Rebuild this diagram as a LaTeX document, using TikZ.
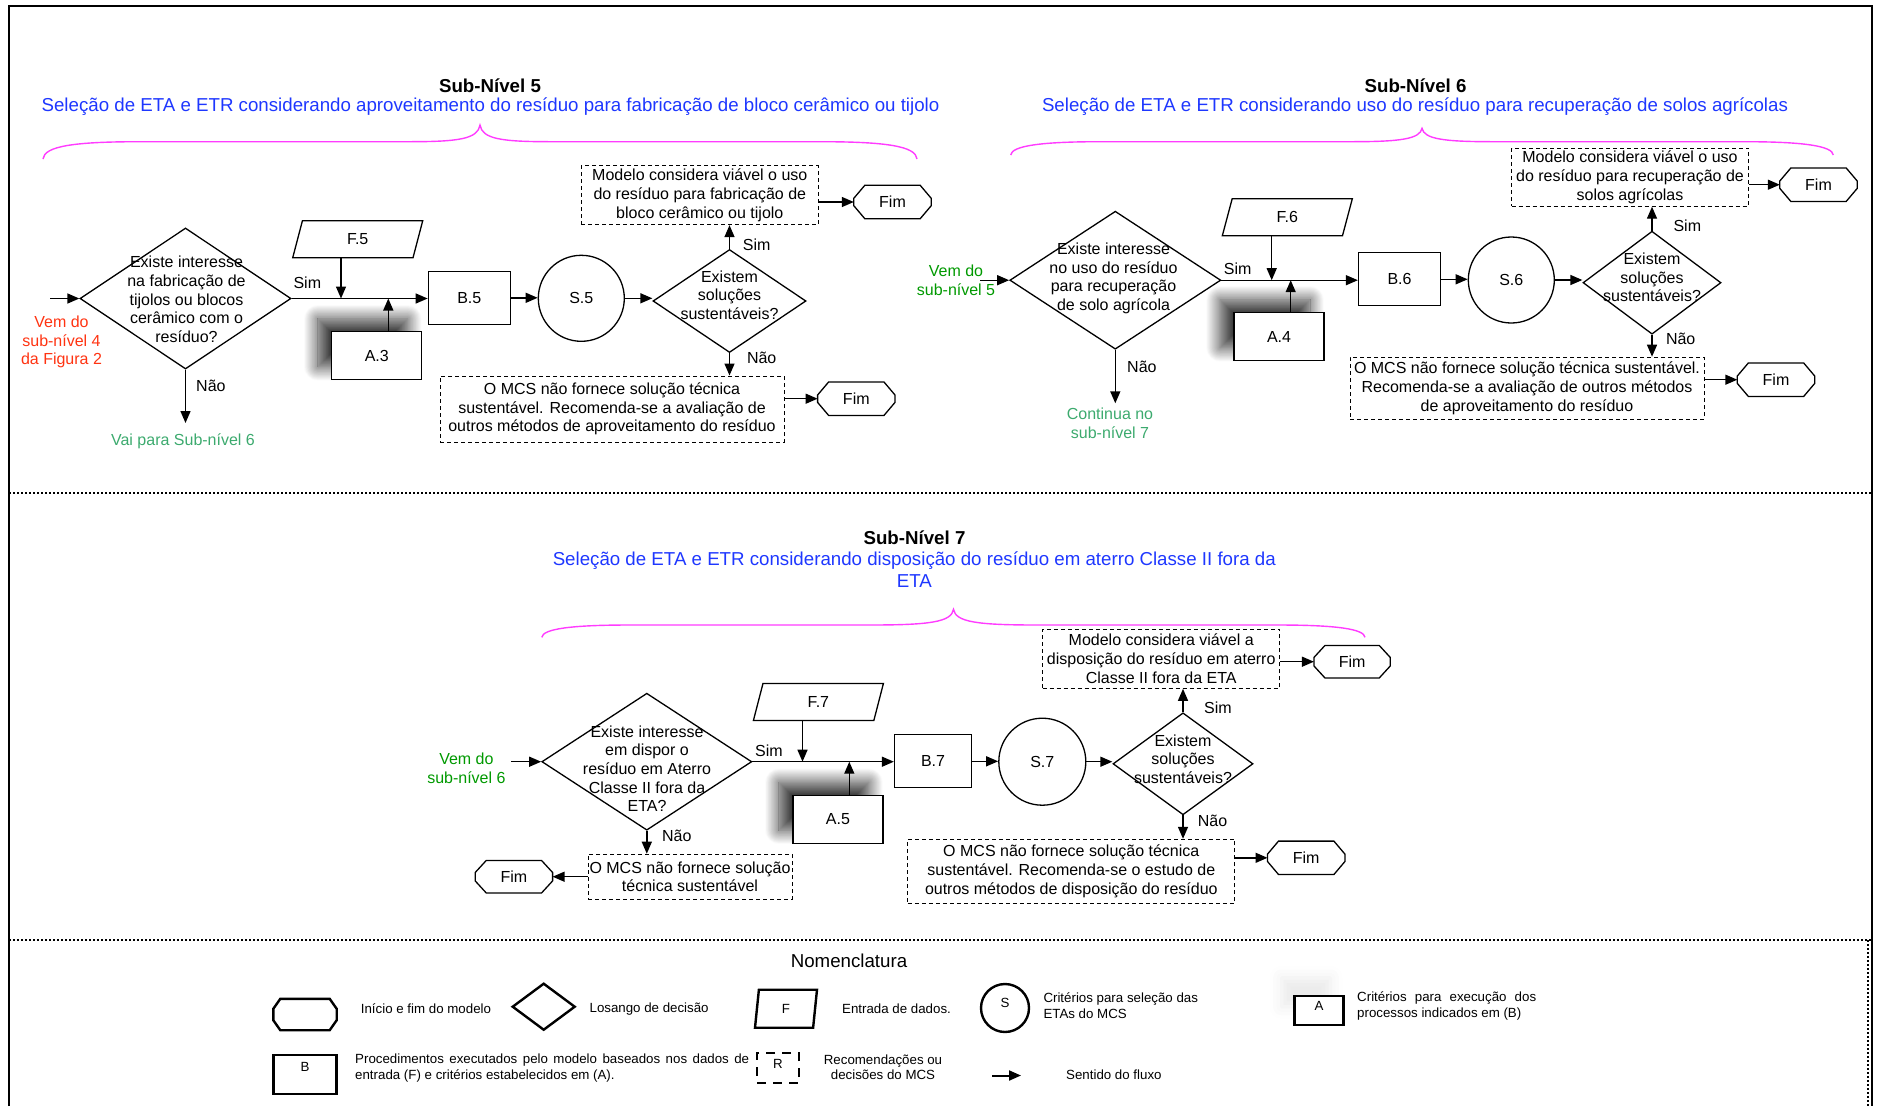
\documentclass[tikz,border=0pt]{standalone}
\usepackage{fontspec}
\setmainfont{Liberation Sans}
\usepackage{tikz}
\usetikzlibrary{positioning}
\usetikzlibrary{shapes.geometric, arrows.meta, shadows.blur}
\definecolor{titleblue}{RGB}{30,55,255}
\definecolor{fromred}{RGB}{255,51,17}
\definecolor{fromgreen}{RGB}{0,153,0}
\definecolor{togreen}{RGB}{60,170,110}
\definecolor{bracepink}{RGB}{255,60,255}
\newcommand{\nodefont}{\fontsize{16}{18.7}\selectfont}
\newcommand{\headfont}{\fontsize{18.7}{22}\selectfont}
\newcommand{\legfont}{\fontsize{13.3}{15.5}\selectfont}
\tikzstyle{process} = [rectangle, draw=black, line width=1.3pt, fill=white, inner sep=0pt, font=\nodefont]
\tikzstyle{criteria} = [process, blur shadow={shadow xshift=-14pt, shadow yshift=13pt, shadow blur radius=14pt, shadow blur steps=24, shadow opacity=80}]
\tikzstyle{decision} = [diamond, draw=black, line width=1.3pt, inner sep=0pt]
\tikzstyle{dataio} = [trapezium, trapezium left angle=49, trapezium right angle=131, trapezium stretches body, draw=black, line width=1.3pt, inner sep=0pt, minimum height=37pt, minimum width=130pt, font=\nodefont]
\tikzstyle{selcrit} = [circle, draw=black, line width=1.3pt, minimum size=86pt, inner sep=0pt, font=\nodefont]
\tikzstyle{result} = [rectangle, draw=black, dash pattern=on 4pt off 3pt, line width=1pt, inner sep=0pt, align=center, font=\nodefont]
\tikzstyle{fim} = [rectangle, minimum width=77pt, minimum height=33pt, inner sep=0pt, font=\nodefont]
\tikzstyle{fimline} = [draw=black, line width=1.3pt]
\tikzstyle{flow} = [line width=1.4pt, -{Triangle[length=12pt,width=10pt]}]
\tikzstyle{txt} = [inner sep=0pt, align=center, font=\nodefont]
\tikzstyle{headtxt} = [inner sep=0pt, align=center, font=\headfont]
\tikzstyle{subbrace} = [bracepink, line width=1.4pt]
\tikzstyle{divider} = [line width=1.2pt, dash pattern=on 2pt off 2pt]
\tikzstyle{legtxt} = [inner sep=0pt, align=left, font=\legfont]
% octagon outline round a Fim node: node, cut in x, cut in y
\newcommand{\fimframe}[3]{\draw [fimline] ([xshift=#2]#1.north west) -- ([xshift=-#2]#1.north east) -- ([yshift=-#3]#1.north east) -- ([yshift=#3]#1.south east) -- ([xshift=-#2]#1.south east) -- ([xshift=#2]#1.south west) -- ([yshift=#3]#1.south west) -- ([yshift=-#3]#1.north west) -- cycle;}

\begin{document}
\begin{tikzpicture}[x=1pt, y=-1pt]
\useasboundingbox (0,0) rectangle (1878,1106);
% frame and dividers
\draw [line width=2pt] (9,1106) -- (9,6) -- (1872,6) -- (1872,1106);
\draw [divider] (9,493) -- (1872,493);
\draw [divider] (9,940) -- (1872,940);
\draw [divider] (1868,940) -- (1868,1106);

% Sub-Nivel 5
\node (title5) at (490,86) [headtxt, font=\headfont\bfseries] {Sub-Nível 5};
\node (sel5) at (490.5,106.7) [headtxt, text=titleblue] {Seleção de ETA e ETR considerando aproveitamento do resíduo para fabricação de bloco cerâmico ou tijolo};
\draw [subbrace] (43,159) .. controls (44,146) and (75,141.7) .. (140,141.7) -- (410,141.7) .. controls (458,141.7) and (478,139) .. (480,125) .. controls (482,139) and (502,141.7) .. (550,141.7) -- (820,141.7) .. controls (885,141.7) and (916,146) .. (917,159);

\node (d5) at (185.5,298.5) [decision, minimum width=211pt, minimum height=141pt] {};
\node (d5t) at (186.5,299.5) [txt] {Existe interesse\\na fabricação de\\tijolos ou blocos\\cerâmico com o\\resíduo?};
\coordinate (in5) at (50,298.5);
\draw [flow] (in5) -- (d5.west);
\node (vem4) at (61.5,342) [txt, text=fromred] {Vem do\\sub-nível 4\\da Figura 2};
\coordinate (out5) at (185.5,423);
\draw [flow] (d5.south) -- (out5);
\node (nao5a) at (196,385.7) [txt, anchor=west] {Não};
\node (vai6) at (183,441) [txt, text=togreen] {Vai para Sub-nível 6};
\node (sim5a) at (307.3,282.7) [txt] {Sim};
\node (f5) at (357.7,239.3) [dataio] {F.5};
\node (a3) at (376.8,355.8) [criteria, minimum width=90pt, minimum height=48pt] {A.3};
\node (b5) at (469.3,297.8) [process, minimum width=82pt, minimum height=53pt] {B.5};
\coordinate (j5a) at (341,298.5);
\coordinate (j5b) at (388.3,298.5);
\draw [flow] (d5.east) -- (d5.east -| b5.west);
\draw [flow] (f5.south -| j5a) -- (j5a);
\draw [flow] (a3.north -| j5b) -- (j5b);

\node (s5) at (581.3,298.3) [selcrit] {S.5};
\node (d5b) at (729.5,301) [decision, minimum width=153pt, minimum height=103pt] {};
\node (d5bt) at (729.5,295) [txt] {Existem\\soluções\\sustentáveis?};
\draw [flow] (b5.east) -- (b5.east -| s5.west);
\draw [flow] (s5.east) -- (s5.east -| d5b.west);
\node (ok5) at (699.8,195.3) [result, minimum width=237pt, minimum height=58.7pt] {Modelo considera viável o uso\\do resíduo para fabricação de\\bloco cerâmico ou tijolo};
\draw [flow] (d5b.north) -- (d5b.north |- ok5.south);
\node (sim5b) at (756.7,244.3) [txt] {Sim};
\node (fim5a) at (892.5,202) [fim] {Fim};
\fimframe{fim5a}{11pt}{13pt}
\draw [flow] (ok5.east |- fim5a.west) -- (fim5a.west);
\node (no5) at (612,409) [result, minimum width=344pt, minimum height=66pt] {O MCS não fornece solução técnica\\sustentável. Recomenda-se a avaliação de\\outros métodos de aproveitamento do resíduo};
\draw [flow] (d5b.south) -- (d5b.south |- no5.north);
\node (nao5b) at (761.7,357.7) [txt] {Não};
\node (fim5b) at (856.3,398.7) [fim] {Fim};
\fimframe{fim5b}{11pt}{13pt}
\draw [flow] (no5.east |- fim5b.west) -- (fim5b.west);

% Sub-Nivel 6
\node (title6) at (1415.5,86) [headtxt, font=\headfont\bfseries] {Sub-Nível 6};
\node (sel6) at (1415,107) [headtxt, text=titleblue] {Seleção de ETA e ETR considerando uso do resíduo para recuperação de solos agrícolas};
\draw [subbrace] (1010.7,155) .. controls (1011.7,146) and (1040,141.7) .. (1100,141.7) -- (1352,141.7) .. controls (1400,141.7) and (1420,139) .. (1422,128.3) .. controls (1424,139) and (1444,141.7) .. (1492,141.7) -- (1744,141.7) .. controls (1804,141.7) and (1832.3,146) .. (1833.3,155);

\node (vem5) at (956,280.5) [txt, text=fromgreen] {Vem do\\sub-nível 5};
\node (d6) at (1115.3,280.2) [decision, minimum width=211pt, minimum height=138pt] {};
\node (d6t) at (1113.5,278.5) [txt] {Existe interesse\\no uso do resíduo\\para recuperação\\de solo agrícola};
\coordinate (in6) at (980,280.2);
\draw [flow] (in6) -- (d6.west);
\coordinate (out6) at (1115.3,403.3);
\draw [flow] (d6.south) -- (out6);
\node (nao6a) at (1127,367.3) [txt, anchor=west] {Não};
\node (cont7) at (1110,423.5) [txt, text=togreen] {Continua no\\sub-nível 7};
\node (sim6a) at (1237.7,269) [txt] {Sim};
\node (f6) at (1287.3,217.3) [dataio] {F.6};
\node (a4) at (1279,336.8) [criteria, minimum width=90pt, minimum height=48pt] {A.4};
\node (b6) at (1399.5,279.3) [process, minimum width=82pt, minimum height=53pt] {B.6};
\coordinate (j6a) at (1271.7,280.2);
\coordinate (j6b) at (1290.7,280.2);
\draw [flow] (d6.east) -- (d6.east -| b6.west);
\draw [flow] (f6.south -| j6a) -- (j6a);
\draw [flow] (a4.north -| j6b) -- (j6b);

\node (s6) at (1511.3,280) [selcrit] {S.6};
\node (d6b) at (1652,282.7) [decision, minimum width=138pt, minimum height=103pt] {};
\node (d6bt) at (1652,277.3) [txt] {Existem\\soluções\\sustentáveis?};
\draw [flow] (b6.east) -- (b6.east -| s6.west);
\draw [flow] (s6.east) -- (s6.east -| d6b.west);
\node (ok6) at (1630,177.2) [result, minimum width=237pt, minimum height=58pt] {Modelo considera viável o uso\\do resíduo para recuperação de\\solos agrícolas};
\draw [flow] (d6b.north) -- (d6b.north |- ok6.south);
\node (sim6b) at (1687.3,225.7) [txt] {Sim};
\node (fim6a) at (1818.5,184.7) [fim] {Fim};
\fimframe{fim6a}{11pt}{13pt}
\draw [flow] (ok6.east |- fim6a.west) -- (fim6a.west);
\node (no6) at (1527,388.2) [result, minimum width=354pt, minimum height=62pt] {O MCS não fornece solução técnica sustentável.\\Recomenda-se a avaliação de outros métodos\\de aproveitamento do resíduo};
\draw [flow] (d6b.south) -- (d6b.south |- no6.north);
\node (nao6b) at (1680.7,339.3) [txt] {Não};
\node (fim6b) at (1776,379.7) [fim] {Fim};
\fimframe{fim6b}{11pt}{13pt}
\draw [flow] (no6.east |- fim6b.west) -- (fim6b.west);

% Sub-Nivel 7
\node (title7) at (914.5,537.3) [headtxt, font=\headfont\bfseries] {Sub-Nível 7};
\node (sel7) at (914.3,570) [headtxt, text=titleblue] {Seleção de ETA e ETR considerando disposição do resíduo em aterro Classe II fora da\\ETA};
\draw [subbrace] (541.8,637.3) .. controls (542.8,629) and (570,625) .. (630,625) -- (870,625) .. controls (930,625) and (951.5,622) .. (953.5,609.3) .. controls (955.5,622) and (977,625) .. (1037,625) -- (1277,625) .. controls (1337,625) and (1364,629) .. (1365,637.3);

\node (vem6) at (466.4,768.3) [txt, text=fromgreen] {Vem do\\sub-nível 6};
\node (d7) at (646.8,761.7) [decision, minimum width=210pt, minimum height=137pt] {};
\node (d7t) at (647,768.7) [txt] {Existe interesse\\em dispor o\\resíduo em Aterro\\Classe II fora da\\ETA?};
\coordinate (in7) at (511.4,761.7);
\draw [flow] (in7) -- (d7.west);
\node (sim7a) at (768.9,750.7) [txt] {Sim};
\node (f7) at (818.4,702) [dataio] {F.7};
\node (a5) at (837.9,819.2) [criteria, minimum width=90pt, minimum height=48pt] {A.5};
\node (b7) at (933,761.3) [process, minimum width=77pt, minimum height=53pt] {B.7};
\coordinate (j7a) at (802.5,761.7);
\coordinate (j7b) at (849.3,761.7);
\draw [flow] (d7.east) -- (d7.east -| b7.west);
\draw [flow] (f7.south -| j7a) -- (j7a);
\draw [flow] (a5.north -| j7b) -- (j7b);

\node (s7) at (1042.3,761.7) [selcrit, minimum size=87pt] {S.7};
\node (d7b) at (1183,763.8) [decision, minimum width=140pt, minimum height=102pt] {};
\node (d7bt) at (1183,759.2) [txt] {Existem\\soluções\\sustentáveis?};
\draw [flow] (b7.east) -- (b7.east -| s7.west);
\draw [flow] (s7.east) -- (s7.east -| d7b.west);
\node (ok7) at (1161.2,658.8) [result, minimum width=237pt, minimum height=59pt] {Modelo considera viável a\\disposição do resíduo em aterro\\Classe II fora da ETA};
\draw [flow] (d7b.north) -- (d7b.north |- ok7.south);
\node (sim7b) at (1217.9,707.3) [txt] {Sim};
\node (fim7a) at (1352.1,661.7) [fim, minimum width=76pt, minimum height=32pt] {Fim};
\fimframe{fim7a}{11pt}{12pt}
\draw [flow] (ok7.east |- fim7a.west) -- (fim7a.west);
\node (no7) at (1071.3,871.3) [result, minimum width=327pt, minimum height=64pt] {O MCS não fornece solução técnica\\sustentável. Recomenda-se o estudo de\\outros métodos de disposição do resíduo};
\draw [flow] (d7b.south) -- (d7b.south |- no7.north);
\node (nao7b) at (1212.5,820.7) [txt] {Não};
\node (fim7b) at (1306.2,857.8) [fim] {Fim};
\fimframe{fim7b}{11pt}{13pt}
\draw [flow] (no7.east |- fim7b.west) -- (fim7b.west);
\node (no7s) at (690,876.7) [result, minimum width=204pt, minimum height=45pt] {O MCS não fornece solução\\técnica sustentável};
\draw [flow] (d7.south) -- (d7.south |- no7s.north);
\node (nao7a) at (676.8,835.7) [txt] {Não};
\node (fim7c) at (513.9,876.7) [fim, minimum height=32pt] {Fim};
\fimframe{fim7c}{11pt}{12pt}
\draw [flow] (no7s.west |- fim7c.east) -- (fim7c.east);

% Nomenclatura
\node (nomen) at (849,961) [headtxt] {Nomenclatura};
\node (lgfim) at (305,1014.5) [fim, minimum width=63pt, minimum height=31pt] {};
\draw [fimline, line width=2.4pt] ([xshift=7pt]lgfim.north west) -- ([xshift=-7pt]lgfim.north east) -- ([yshift=-10pt]lgfim.north east) -- ([yshift=10pt]lgfim.south east) -- ([xshift=-7pt]lgfim.south east) -- ([xshift=7pt]lgfim.south west) -- ([yshift=10pt]lgfim.south west) -- ([yshift=-10pt]lgfim.north west) -- cycle;
\node (lgfimt) at (360.7,1009) [legtxt, anchor=west] {Início e fim do modelo};
\node (lgdec) at (543.7,1006.7) [decision, line width=2.4pt, minimum width=63pt, minimum height=47pt] {};
\node (lgdect) at (589.4,1009) [legtxt, anchor=west] {Losango de decisão};
\node (lgf) at (786,1008.7) [dataio, trapezium left angle=67, trapezium right angle=113, line width=2.4pt, minimum width=62pt, minimum height=38pt, font=\legfont] {F};
\node (lgft) at (842,1009) [legtxt, anchor=west] {Entrada de dados.};
\node (lgs) at (1005,1008) [selcrit, line width=2.4pt, minimum size=48pt] {};
\node (lgsl) at (1005,1003) [legtxt] {S};
\node (lgst) at (1043.3,1005.8) [legtxt, anchor=west] {Critérios para seleção das\\ETAs do MCS};
\node (lga) at (1319,1010.3) [process, line width=2.4pt, minimum width=49pt, minimum height=29pt, blur shadow={shadow xshift=-13pt, shadow yshift=18pt, shadow blur radius=12pt, shadow opacity=8}] {};
\node (lgal) at (1319,1006) [legtxt] {A};
\node (lgat) at (1357,1006) [legtxt, anchor=west] {\parbox{179pt}{Critérios\hfill para\hfill execução\hfill dos\\processos indicados em (B)}};
\node (lgb) at (305,1074.5) [process, line width=2.4pt, minimum width=63pt, minimum height=39pt] {};
\node (lgbl) at (305,1066.5) [legtxt] {B};
\node (lgbt) at (355,1068) [legtxt, anchor=west] {\parbox{394pt}{Procedimentos\hfill executados\hfill pelo\hfill modelo\hfill baseados\hfill nos\hfill dados\hfill de\\entrada (F) e critérios estabelecidos em (A).}};
\node (lgr) at (778,1068) [rectangle, draw=black, line width=2.4pt, dash pattern=on 9pt off 7pt, minimum width=42pt, minimum height=30pt, inner sep=0pt] {};
\node (lgrl) at (778,1064) [legtxt] {R};
\node (lgrt) at (883,1067) [legtxt, align=center] {Recomendações ou\\decisões do MCS};
\coordinate (lgarra) at (992,1075.5);
\coordinate (lgarrb) at (1021,1075.5);
\draw [flow, line width=2pt] (lgarra) -- (lgarrb);
\node (lgarrt) at (1066,1075) [legtxt, anchor=west] {Sentido do fluxo};
\end{tikzpicture}
\end{document}
